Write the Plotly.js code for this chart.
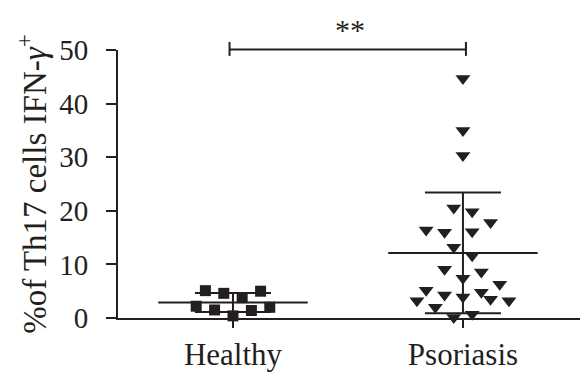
<!DOCTYPE html>
<html>
<head>
<meta charset="utf-8">
<script src="https://cdn.plot.ly/plotly-3.0.1.min.js"></script>
<style>html,body{margin:0;padding:0;background:#fff;}#chart{width:580px;height:377px;}</style>
</head>
<body>
<div id="chart"></div>
<script>
// Data
const categories = ["Healthy", "Psoriasis"];
const healthyValues = [5.1, 4.6, 3.8, 5.0, 2.2, 1.5, 0.4, 1.4, 2.0];
const healthyJitter = [-0.12, -0.04, 0.04, 0.12, -0.16, -0.08, 0, 0.08, 0.16];
const psoriasisValues = [44.7, 35.0, 30.3, 20.5, 19.8, 17.8, 16.4, 16.0, 16.1, 13.2, 11.6, 9.1, 8.6, 7.4, 6.3, 5.2, 4.3, 3.9, 4.8, 3.2, 2.0, 3.5, 3.2, 0.1, 0.7];
const psoriasisJitter = [0, 0, 0, -0.04, 0.04, 0.12, -0.16, -0.08, 0.04, -0.04, 0.04, -0.08, 0.08, 0, 0.16, -0.16, -0.08, 0, 0.08, -0.2, -0.12, 0.12, 0.2, -0.04, 0.04];
const yTicks = [0, 10, 20, 30, 40, 50];
const significance = "**";

const INK = "#231f20";
const FONT = "Liberation Serif";

function mean(a){return a.reduce((s,v)=>s+v,0)/a.length;}
function sd(a){const m=mean(a);return Math.sqrt(a.reduce((s,v)=>s+(v-m)*(v-m),0)/(a.length-1));}

const groups = [
  {pos: 1, vals: healthyValues, jit: healthyJitter, symbol: "square", size: 11},
  {pos: 2, vals: psoriasisValues, jit: psoriasisJitter, symbol: "triangle-down", size: 13}
];

const traces = [];
groups.forEach(g => {
  const m = mean(g.vals), s = sd(g.vals);
  traces.push({x:[g.pos-0.325, g.pos+0.325], y:[m,m], mode:"lines", line:{color:INK,width:2}, hoverinfo:"skip", showlegend:false, cliponaxis:false});
  traces.push({x:[g.pos], y:[m], mode:"markers", marker:{size:0.1,color:INK}, error_y:{type:"data", array:[s], visible:true, color:INK, thickness:2, width:38}, showlegend:false, cliponaxis:false});
  traces.push({x:g.vals.map((v,i)=>g.pos+g.jit[i]), y:g.vals, mode:"markers", marker:{symbol:g.symbol, size:g.size, color:INK, line:{width:0}}, showlegend:false, cliponaxis:false});
});

const layout = {
  width:580, height:377,
  margin:{l:118, r:0, t:50, b:59},
  paper_bgcolor:"#fff", plot_bgcolor:"#fff",
  font:{family:FONT, color:INK},
  xaxis:{
    range:[0.5, 2.509], tickmode:"array", tickvals:[1,2], ticktext:categories,
    showgrid:false, zeroline:false, showline:true, linecolor:INK, linewidth:2,
    ticks:"outside", ticklen:8, tickwidth:2, tickcolor:INK,
    tickfont:{family:FONT, size:31, color:INK}
  },
  yaxis:{
    range:[0,50], tickmode:"array", tickvals:yTicks,
    showgrid:false, zeroline:false, showline:true, linecolor:INK, linewidth:2,
    ticks:"outside", ticklen:10, tickwidth:2, tickcolor:INK, ticklabelstandoff:12,
    tickfont:{family:FONT, size:29, color:INK},
    title:{text:"%of Th17 cells IFN-<i>γ</i><sup>+</sup>", font:{family:FONT, size:33, color:INK}, standoff:3}
  },
  shapes:[
    {type:"line", xref:"x", yref:"paper", x0:0.985, x1:2.013, y0:1.002, y1:1.002, line:{color:INK,width:2}},
    {type:"line", xref:"x", yref:"paper", x0:0.985, x1:0.985, y0:0.978, y1:1.03, line:{color:INK,width:2}},
    {type:"line", xref:"x", yref:"paper", x0:2.013, x1:2.013, y0:0.978, y1:1.03, line:{color:INK,width:2}}
  ],
  annotations:[
    {text:significance, xref:"x", yref:"paper", x:1.51, y:1.075, yanchor:"middle", showarrow:false, font:{family:FONT, size:30, color:INK}}
  ]
};

Plotly.newPlot("chart", traces, layout, {displayModeBar:false, staticPlot:true});
</script>
</body>
</html>
